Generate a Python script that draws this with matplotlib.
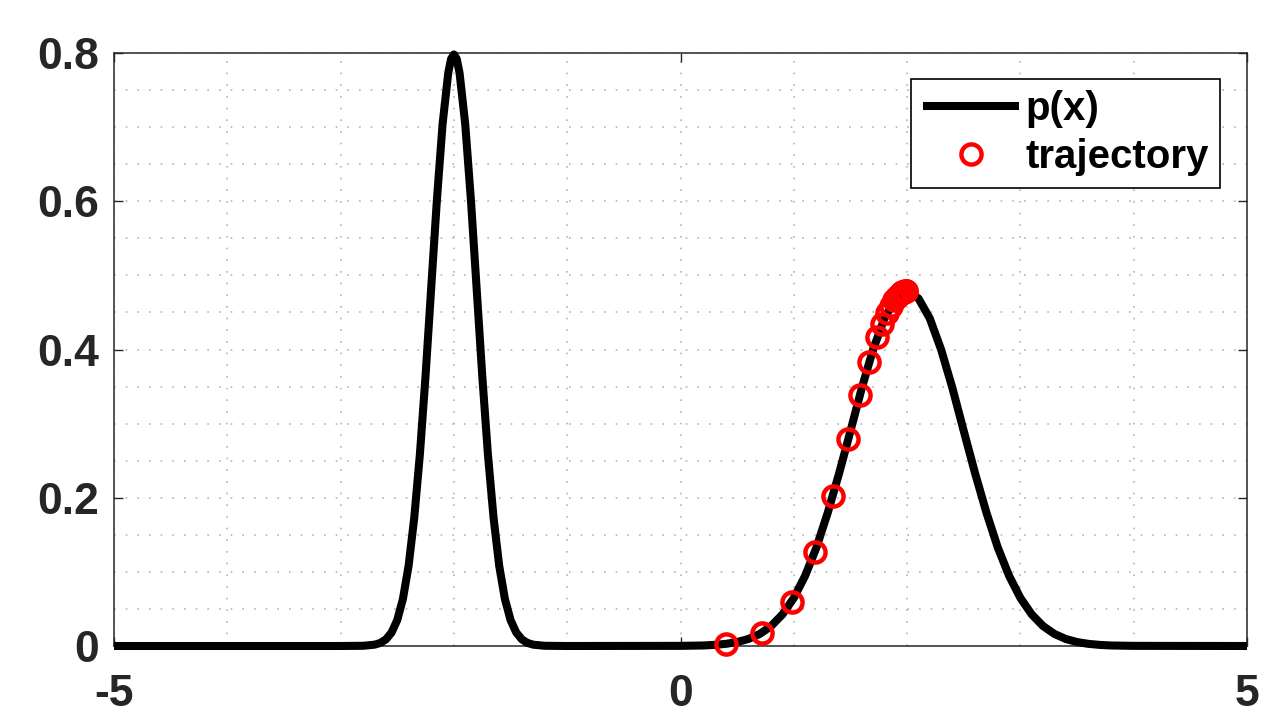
import matplotlib
matplotlib.use("Agg")
import matplotlib.pyplot as plt
from matplotlib.ticker import MultipleLocator

# ---- data ----
x_curve = [-5.0, -3.0, -2.8, -2.7, -2.65, -2.6, -2.55, -2.5, -2.45, -2.4, -2.35, -2.3,
           -2.25, -2.2, -2.15, -2.1, -2.05, -2.025, -2.0, -1.975, -1.95, -1.9, -1.85,
           -1.8, -1.75, -1.7, -1.65, -1.6, -1.55, -1.5, -1.45, -1.4, -1.35, -1.3, -1.2,
           -1.0, 0.0, 0.2, 0.3, 0.4, 0.5, 0.6, 0.7, 0.8, 0.9, 1.0, 1.1, 1.2, 1.3, 1.4,
           1.5, 1.6, 1.7, 1.8, 1.9, 2.0, 2.1, 2.2, 2.3, 2.4, 2.5, 2.6, 2.7, 2.8, 2.9,
           3.0, 3.1, 3.2, 3.3, 3.4, 3.5, 3.6, 3.7, 3.8, 4.0, 5.0]
p_curve = [0.0, 0.0, 0.0003, 0.0018, 0.0041, 0.0089, 0.0182, 0.0350, 0.0635, 0.108,
           0.173, 0.259, 0.365, 0.484, 0.602, 0.704, 0.773, 0.792, 0.798, 0.792, 0.773,
           0.704, 0.602, 0.484, 0.365, 0.259, 0.173, 0.108, 0.0635, 0.0350, 0.0182,
           0.0089, 0.0041, 0.0018, 0.0003, 0.0, 0.0002, 0.0007, 0.0015, 0.0029, 0.0053,
           0.0095, 0.0163, 0.0269, 0.0426, 0.0648, 0.0947, 0.133, 0.180, 0.233, 0.290,
           0.348, 0.400, 0.442, 0.469, 0.479, 0.469, 0.442, 0.400, 0.348, 0.290, 0.233,
           0.180, 0.133, 0.0947, 0.0648, 0.0426, 0.0269, 0.0163, 0.0095, 0.0053, 0.0029,
           0.0015, 0.0007, 0.0002, 0.0]

x_traj = [0.406, 0.721, 0.980, 1.186, 1.345, 1.480, 1.583, 1.665, 1.736, 1.78, 1.82,
          1.855, 1.885, 1.91, 1.93, 1.945, 1.958, 1.968, 1.976, 1.982, 1.987, 1.99]
y_traj = [0.0030, 0.0182, 0.0598, 0.1272, 0.2030, 0.2788, 0.3381, 0.3825, 0.4164,
          0.4345, 0.4487, 0.4590, 0.4662, 0.4710, 0.4740, 0.4759, 0.4771, 0.4777,
          0.4782, 0.4784, 0.4786, 0.4787]

x_ticks = [-5, 0, 5]
x_ticklabels = ["-5", "0", "5"]
y_ticks = [0, 0.2, 0.4, 0.6, 0.8]
y_ticklabels = ["0", "0.2", "0.4", "0.6", "0.8"]
legend_labels = ["p(x)", "trajectory"]

# ---- figure ----
plt.rcParams['font.family'] = ['Liberation Sans', 'DejaVu Sans']
fig = plt.figure(figsize=(12.79, 7.26), dpi=100)
W, H = 1279, 726
ax = fig.add_axes([114 / W, 1 - 646 / H, (1247 - 114) / W, (646 - 53) / H])

dark = '#262626'
ax.plot(x_curve, p_curve, color='black', lw=5.8, label=legend_labels[0], zorder=3,
        solid_capstyle='butt', clip_on=False)
ax.plot(x_traj, y_traj, linestyle='none', marker='o', ms=14.5, mew=3.2,
        mfc='none', mec='#ff0000', label=legend_labels[1], zorder=4, clip_on=False)

ax.set_xlim(-5, 5)
ax.set_ylim(0, 0.8)
ax.set_xticks(x_ticks)
ax.set_xticklabels(x_ticklabels)
ax.set_yticks(y_ticks)
ax.set_yticklabels(y_ticklabels)
ax.xaxis.set_minor_locator(MultipleLocator(1))
ax.yaxis.set_minor_locator(MultipleLocator(0.05))

ax.tick_params(which='major', direction='in', length=6.5, width=1, colors=dark,
               top=True, right=True, labelsize=32)
ax.tick_params(which='minor', length=0, top=True, right=True)
ax.tick_params(axis='y', pad=11)
ax.tick_params(axis='x', pad=20)
for lab in ax.get_xticklabels() + ax.get_yticklabels():
    lab.set_fontweight('bold')

for s in ax.spines.values():
    s.set_color(dark)
    s.set_linewidth(1.1)

ax.grid(True, which='both', color='#b5b5b5', linestyle=(0, (1, 6)), linewidth=1.2)
ax.set_axisbelow(True)

leg = ax.legend(loc='upper right', bbox_to_anchor=((1220 - 114) / 1133, (646 - 79) / 593),
                borderaxespad=0, fancybox=False, framealpha=1, edgecolor='black',
                prop={'size': 29, 'weight': 'bold'}, handlelength=2.4,
                handletextpad=0.15, labelspacing=0.25, borderpad=0.28)
leg.get_frame().set_linewidth(1.2)
leg.set_zorder(10)

fig.savefig('out.png', dpi=100)
